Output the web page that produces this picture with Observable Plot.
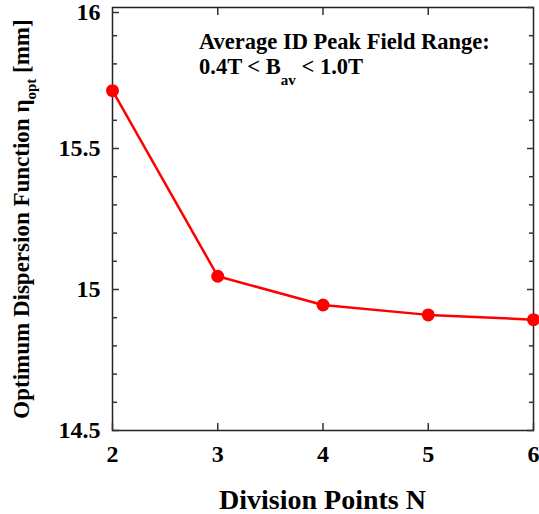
<!DOCTYPE html>
<html><head><meta charset="utf-8">
<script src="https://cdn.jsdelivr.net/npm/d3@7"></script>
<script src="https://cdn.jsdelivr.net/npm/@observablehq/plot@0.6"></script>
<style>
body{margin:0;background:#fff}
svg{display:block}
g[aria-label="x-axis tick label"], g[aria-label="y-axis tick label"] { font-size: 24px; }
</style>
</head><body><div id="chart"></div>
<script>
const divisionPoints = [2, 3, 4, 5, 6];
const etaOpt = [15.705, 15.047, 14.945, 14.910, 14.893];
const xTicks = [2, 3, 4, 5, 6];
const yMajorTicks = [14.5, 15, 15.5, 16];
const yMinorTicks = [14.6, 14.7, 14.8, 14.9, 15.1, 15.2, 15.3, 15.4, 15.6, 15.7, 15.8, 15.9];
const yTickLabels = {"14.5": "14.5", "15": "15", "15.5": "15.5", "16": "16"};
const xTitle = "Division Points N";
const yTitle = ["Optimum Dispersion Function η", "opt", " [mm]"];
const note1 = "Average ID Peak Field Range:";
const note2 = ["0.4T < B", "av", " < 1.0T"];

const data = divisionPoints.map((n, i) => ({n, eta: etaOpt[i]}));
const font = "Liberation Serif, DejaVu Serif, Times New Roman, Times, serif";
const fmtY = d => yTickLabels[String(d)];
const axisStyle = {stroke: "#333", strokeWidth: 1.5, label: null};

const plot = Plot.plot({
  width: 539, height: 514,
  marginLeft: 112, marginRight: 6, marginTop: 7, marginBottom: 84,
  style: {fontFamily: font, fontWeight: "bold", background: "#fff", color: "#000", overflow: "visible"},
  x: {domain: [2, 6], label: null},
  y: {domain: [14.5, 16], label: null},
  marks: [
    Plot.frame({stroke: "#222", strokeWidth: 1.5}),
    Plot.axisX({ticks: xTicks, tickSize: -7, tickPadding: 21, fontSize: 24, tickFormat: d => String(d), ...axisStyle}),
    Plot.axisX({anchor: "top", ticks: xTicks.slice(1, -1), tickSize: -7, tickFormat: () => "", ...axisStyle}),
    Plot.axisY({ticks: yMajorTicks.filter(d => d !== 16), tickSize: -7, tickPadding: 19, fontSize: 24, tickFormat: fmtY, ...axisStyle}),
    Plot.axisY({ticks: [16], tickSize: -7, tickPadding: 19, dy: 5, fontSize: 24, tickFormat: fmtY, ...axisStyle}),
    Plot.axisY({ticks: yMinorTicks, tickSize: -5, tickFormat: () => "", ...axisStyle}),
    Plot.axisY({anchor: "right", ticks: yMajorTicks, tickSize: -7, tickFormat: () => "", ...axisStyle}),
    Plot.axisY({anchor: "right", ticks: yMinorTicks, tickSize: -5, tickFormat: () => "", ...axisStyle}),
    Plot.line(data, {x: "n", y: "eta", stroke: "#ff0000", strokeWidth: 2.5}),
    Plot.dot(data, {x: "n", y: "eta", r: 6.5, fill: "#ff0000", stroke: "none"})
  ]
});

const svg = d3.select(plot);
function addText(x, y, size, anchor) {
  return svg.append("text")
    .attr("x", x).attr("y", y)
    .attr("text-anchor", anchor)
    .style("font-family", font).style("font-weight", "bold").style("font-size", size + "px")
    .attr("fill", "#000");
}
// y title
const yt = addText(0, 0, 23, "middle").attr("transform", "translate(29,219) rotate(-90)");
yt.append("tspan").text(yTitle[0]);
yt.append("tspan").style("font-size", "15px").attr("dy", 7).text(yTitle[1]);
yt.append("tspan").attr("dy", -7).text(yTitle[2]);
// x title
addText(322.5, 509, 28, "middle").text(xTitle);
// annotation
addText(199, 49, 22.5, "start").text(note1);
const n2 = addText(199, 74, 22.5, "start");
n2.append("tspan").text(note2[0]);
n2.append("tspan").style("font-size", "15px").attr("dy", 11).text(note2[1]);
n2.append("tspan").attr("dy", -11).text(note2[2]);

document.getElementById("chart").appendChild(plot);
</script>
</body></html>
